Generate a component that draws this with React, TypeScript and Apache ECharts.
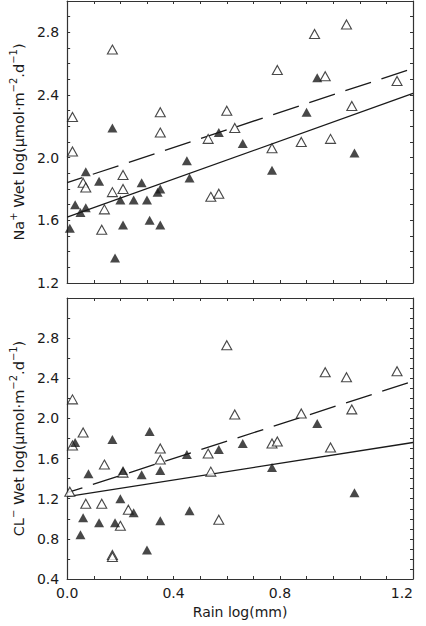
import React, { useEffect, useRef } from "react";
import * as echarts from "echarts";

// ---- data ----
// Top panel: Na+ wet deposition vs rain
const naFilled: number[][] = [
  [0.01, 1.55], [0.03, 1.70], [0.05, 1.65], [0.07, 1.68], [0.07, 1.91],
  [0.12, 1.85], [0.17, 2.19], [0.18, 1.36], [0.20, 1.73], [0.21, 1.57],
  [0.25, 1.73], [0.28, 1.84], [0.30, 1.73], [0.31, 1.60], [0.34, 1.78],
  [0.35, 1.80], [0.35, 1.57], [0.45, 1.98], [0.46, 1.87], [0.57, 2.16],
  [0.66, 2.09], [0.77, 1.92], [0.90, 2.29], [0.94, 2.51], [1.08, 2.03],
];
const naOpen: number[][] = [
  [0.02, 2.26], [0.02, 2.04], [0.06, 1.84], [0.07, 1.81], [0.13, 1.54],
  [0.14, 1.67], [0.17, 1.78], [0.17, 2.69], [0.21, 1.89], [0.21, 1.80],
  [0.35, 2.29], [0.35, 2.16], [0.53, 2.12], [0.54, 1.75], [0.57, 1.77],
  [0.60, 2.30], [0.63, 2.19], [0.77, 2.06], [0.79, 2.56], [0.88, 2.10],
  [0.93, 2.79], [0.97, 2.52], [0.99, 2.12], [1.05, 2.85], [1.07, 2.33],
  [1.24, 2.49],
];
const naFitSolid: number[][] = [[0, 1.62], [1.3, 2.41]];
const naFitDashed: number[][] = [[0, 1.84], [1.3, 2.57]];

// Bottom panel: CL- wet deposition vs rain
const clFilled: number[][] = [
  [0.03, 1.76], [0.08, 1.45], [0.06, 1.01], [0.05, 0.84], [0.12, 0.96],
  [0.17, 1.79], [0.18, 0.96], [0.20, 1.20], [0.21, 1.48], [0.25, 1.06],
  [0.28, 1.44], [0.31, 1.87], [0.30, 0.69], [0.35, 1.48], [0.35, 0.98],
  [0.45, 1.64], [0.46, 1.08], [0.57, 1.69], [0.66, 1.75], [0.77, 1.51],
  [0.94, 1.95], [1.08, 1.26],
];
const clOpen: number[][] = [
  [0.01, 1.27], [0.02, 2.19], [0.02, 1.73], [0.06, 1.86], [0.07, 1.15],
  [0.13, 1.15], [0.14, 1.54], [0.17, 0.64], [0.17, 0.62], [0.20, 0.93],
  [0.21, 1.46], [0.23, 1.09], [0.35, 1.70], [0.35, 1.59], [0.53, 1.65],
  [0.54, 1.47], [0.57, 0.99], [0.60, 2.73], [0.63, 2.04], [0.77, 1.75],
  [0.79, 1.77], [0.88, 2.05], [0.97, 2.46], [0.99, 1.71], [1.05, 2.41],
  [1.07, 2.09], [1.24, 2.47],
];
const clFitSolid: number[][] = [[0, 1.22], [1.3, 1.76]];
const clFitDashed: number[][] = [[0, 1.26], [1.3, 2.37]];

// tick labels
const xTickLabels: [number, string][] = [[0, "0.0"], [0.4, "0.4"], [0.8, "0.8"], [1.3, "1.2"]];
const yTickLabelsTop: number[] = [1.2, 1.6, 2.0, 2.4, 2.8];
const yTickLabelsBottom: number[] = [0.4, 0.8, 1.2, 1.6, 2.0, 2.4, 2.8];

const FONT = "DejaVu Sans";
const INK = "#1a1a1a";
const AXIS = "#333";

function near(a: number, b: number) {
  return Math.abs(a - b) < 1e-6;
}

export default function App() {
  const ref = useRef<HTMLDivElement>(null);

  useEffect(() => {
    if (!ref.current) return;
    const chart = echarts.init(ref.current, undefined, { renderer: "svg" });

    const tick = { show: true, inside: true, length: 3, lineStyle: { color: AXIS, width: 1 } };
    const line = { show: true, onZero: false, lineStyle: { color: AXIS, width: 1.2 } };

    const xBase = (grid: number, position: "top" | "bottom", labels: boolean) => ({
      type: "value" as const,
      gridIndex: grid,
      position,
      min: 0,
      max: 1.3,
      interval: 0.1,
      axisLine: line,
      axisTick: tick,
      splitLine: { show: false },
      axisLabel: labels
        ? {
            show: true,
            margin: 7,
            color: INK,
            fontFamily: FONT,
            fontSize: 14,
            alignMaxLabel: "right",
            formatter: (v: number) => {
              const f = xTickLabels.find((t) => near(t[0], v));
              return f ? f[1] : "";
            },
          }
        : { show: false },
    });

    const yBase = (
      grid: number,
      position: "left" | "right",
      min: number,
      max: number,
      interval: number,
      labels: number[] | null
    ) => ({
      type: "value" as const,
      gridIndex: grid,
      position,
      min,
      max,
      interval,
      axisLine: line,
      axisTick: tick,
      splitLine: { show: false },
      axisLabel: labels
        ? {
            show: true,
            margin: 8,
            color: INK,
            fontFamily: FONT,
            fontSize: 14,
            formatter: (v: number) => {
              const f = labels.find((t) => near(t, v));
              return f !== undefined ? f.toFixed(1) : "";
            },
          }
        : { show: false },
    });

    const richName = {
      a: { fontFamily: FONT, fontSize: 14.5, color: INK, lineHeight: 18, verticalAlign: "bottom" },
      s: { fontFamily: FONT, fontSize: 10, color: INK, lineHeight: 18, verticalAlign: "top" },
    };

    const filledStyle = { color: INK };
    const openStyle = { color: "#ffffff", borderColor: INK, borderWidth: 1.1 };
    const solid = { color: INK, width: 1.3, type: "solid" as const };
    const dashed = { color: INK, width: 1.3, type: [27, 11], dashOffset: 11 };

    const topName = "{a|Na}{s|+}{a| Wet log(μmol·m}{s|−2}{a|.d}{s|−1}{a|)}";
    const botName = "{a|CL}{s|−}{a| Wet log(μmol·m}{s|−2}{a|.d}{s|−1}{a|)}";

    const xAxes = [
      xBase(0, "bottom", false),
      xBase(0, "top", false),
      {
        ...xBase(1, "bottom", true),
        name: "Rain log(mm)",
        nameLocation: "middle",
        nameGap: 26,
        nameTextStyle: { fontFamily: FONT, fontSize: 14, color: INK, verticalAlign: "top" },
      },
      xBase(1, "top", false),
    ];

    const yAxes = [
      {
        ...yBase(0, "left", 1.2, 3.0, 0.1, yTickLabelsTop),
        name: topName,
        nameLocation: "middle",
        nameGap: 39,
        nameTextStyle: { rich: richName },
      },
      yBase(0, "right", 1.2, 3.0, 0.1, null),
      {
        ...yBase(1, "left", 0.4, 3.2, 0.2, yTickLabelsBottom),
        name: botName,
        nameLocation: "middle",
        nameGap: 39,
        nameTextStyle: { rich: richName },
      },
      yBase(1, "right", 0.4, 3.2, 0.1, null),
    ];

    const scatter = (data: number[][], x: number, y: number, style: any, z: number) => ({
      type: "scatter" as const,
      xAxisIndex: x,
      yAxisIndex: y,
      data,
      symbol: "triangle",
      symbolSize: [10, 9],
      itemStyle: style,
      z,
      silent: true,
    });
    const fit = (data: number[][], x: number, y: number, ls: any) => ({
      type: "line" as const,
      xAxisIndex: x,
      yAxisIndex: y,
      data,
      showSymbol: false,
      symbol: "none",
      lineStyle: ls,
      z: 1,
      silent: true,
    });

    chart.setOption({
      animation: false,
      backgroundColor: "#ffffff",
      grid: [
        { left: 53, top: 1, width: 360, height: 282 },
        { left: 53, top: 298, width: 360, height: 281 },
      ],
      xAxis: xAxes,
      yAxis: yAxes,
      series: [
        fit(naFitSolid, 0, 0, solid),
        fit(naFitDashed, 0, 0, dashed),
        fit(clFitSolid, 2, 2, solid),
        fit(clFitDashed, 2, 2, dashed),
        scatter(naOpen, 0, 0, openStyle, 3),
        scatter(naFilled, 0, 0, filledStyle, 4),
        scatter(clOpen, 2, 2, openStyle, 3),
        scatter(clFilled, 2, 2, filledStyle, 4),
      ],
    });

    return () => chart.dispose();
  }, []);

  return (
    <div
      ref={ref}
      style={{ position: "fixed", left: 0, top: 0, width: 426, height: 626, background: "#fff" }}
    />
  );
}
